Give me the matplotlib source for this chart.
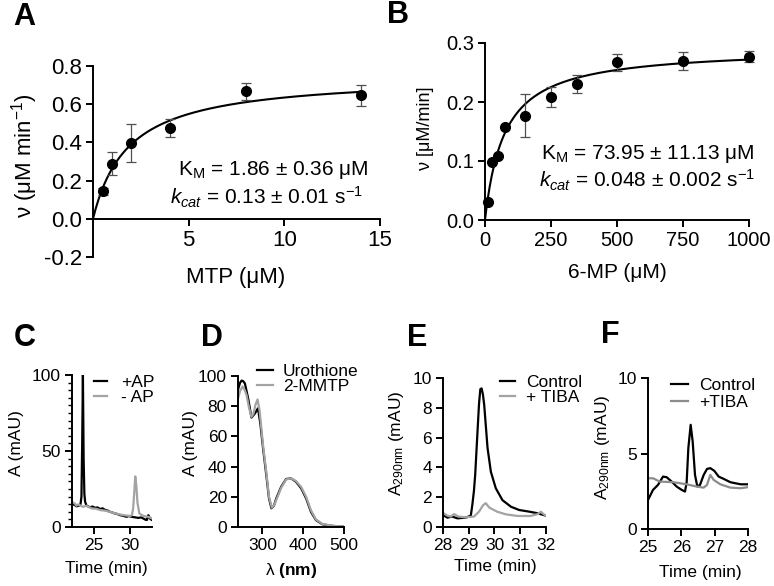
import numpy as np
import matplotlib
matplotlib.use("Agg")
from matplotlib import pyplot as plt

plt.rcParams['font.family'] = ['Liberation Sans', 'DejaVu Sans']
plt.rcParams['mathtext.fontset'] = 'custom'
plt.rcParams['mathtext.rm'] = 'Liberation Sans'
plt.rcParams['mathtext.it'] = 'Liberation Sans:italic'
plt.rcParams['mathtext.bf'] = 'Liberation Sans:bold'
plt.rcParams['axes.linewidth'] = 1.4

# A - MTP kinetics
mtp_conc = [0.5, 1, 2, 4, 8, 14]
mtp_rate = [0.143, 0.288, 0.397, 0.475, 0.667, 0.646]
mtp_err = [0.02, 0.061, 0.098, 0.046, 0.044, 0.057]
mtp_km, mtp_vmax = 1.86, 0.753

# B - 6-MP kinetics
mp_conc = [10, 25, 50, 75, 150, 250, 350, 500, 750, 1000]
mp_rate = [0.031, 0.098, 0.109, 0.158, 0.177, 0.208, 0.230, 0.267, 0.269, 0.277]
mp_err = [0.0, 0.0, 0.0, 0.0, 0.036, 0.017, 0.015, 0.014, 0.015, 0.010]
mp_km, mp_vmax = 73.95, 0.292

# C - HPLC +AP / -AP
c_t_ap = [22.0, 22.2, 22.4, 22.6, 22.8, 23.0, 23.15, 23.3, 23.4, 23.5, 23.6, 23.7, 23.8, 24.0,
          24.3, 24.5, 24.8, 25.2, 25.5, 25.9, 26.2, 26.6, 26.9, 27.2, 27.5, 27.9, 28.2,
          28.6, 29.0, 29.5, 29.8, 30.2, 30.6, 31.1, 31.5, 31.8, 32.1, 32.3, 32.5, 32.7, 32.8, 33.0]
c_v_ap = [15.6, 14.8, 14.4, 13.6, 13.8, 14.2, 14.4, 20, 55, 100, 45, 22, 16.7, 14.0,
          13.4, 12.9, 13.5, 12.6, 12.9, 11.8, 12.3, 11.1, 10.8, 10.0, 9.6, 8.9, 8.6,
          7.8, 7.4, 6.7, 7.2, 6.7, 6.4, 6.0, 6.3, 5.6, 4.8, 4.6, 7.8, 5.8, 5.1, 4.6]
c_t_noap = [22.0, 22.2, 22.37, 22.6, 22.8, 23.06, 23.5, 24.0, 24.7, 25.3, 25.9, 26.5, 27.2,
            27.9, 28.6, 29.5, 30.0, 30.24, 30.4, 30.55, 30.7, 30.85, 31.0, 31.26, 31.8, 32.5, 33.0]
c_v_noap = [16.7, 15.8, 15.6, 14.0, 14.8, 14.4, 13.3, 14.0, 12.2, 12.0, 11.1, 10.8, 10.0,
            9.0, 8.2, 7.5, 7.3, 7.8, 12, 22, 33.3, 27, 16, 8.9, 7.3, 6.7, 5.6]

# D - UV spectra
d_wl_uro = [240, 245, 249, 253, 257, 265, 273, 281, 289, 295, 301.5, 309.6, 316, 322, 328,
            334, 346, 358, 370, 382, 395, 407, 419, 431, 447, 472, 500]
d_ab_uro = [91, 95.5, 97, 96.5, 95, 85, 72.5, 75, 78.6, 68, 52, 34, 19, 12.4, 14,
            19, 26.7, 31.8, 32.2, 30, 25.6, 19, 10, 4.6, 1.8, 0.7, 0.2]
d_wl_mmtp = [240, 245, 251, 256, 261, 267, 273, 278, 283, 288, 293, 301.5, 310, 316, 323, 329,
             334, 346, 358, 370, 382, 395, 407, 419, 431, 447, 472, 500]
d_ab_mmtp = [85, 90, 93, 91, 87.4, 79, 73, 75, 81, 84.5, 77, 54, 35, 20, 12.8, 14.5,
             18, 26, 31.5, 32.2, 30.5, 26.5, 20, 11, 5, 2, 0.8, 0.3]

# E - HPLC control / +TIBA
e_t_ctrl = [28.0, 28.17, 28.36, 28.56, 28.88, 29.08, 29.14, 29.2, 29.25, 29.34, 29.4, 29.45,
            29.5, 29.55, 29.6, 29.73, 29.86, 30.05, 30.31, 30.64, 30.96, 31.35, 31.68, 31.81, 32.0]
e_v_ctrl = [0.8, 0.63, 0.7, 0.58, 0.63, 0.76, 1.5, 2.4, 3.5, 6.4, 8.3, 9.25,
            9.3, 8.9, 8.2, 5.3, 3.7, 2.6, 1.8, 1.36, 1.14, 1.03, 0.92, 0.85, 0.76]
e_t_tiba = [28.0, 28.17, 28.3, 28.43, 28.6, 28.88, 29.2, 29.4, 29.55, 29.66, 29.8, 30.1,
            30.44, 30.9, 31.4, 31.68, 31.8, 31.9, 32.0]
e_v_tiba = [0.95, 0.76, 0.7, 0.87, 0.7, 0.65, 0.7, 1.03, 1.45, 1.6, 1.3, 1.03,
            0.85, 0.74, 0.74, 0.87, 1.03, 0.87, 0.76]

# F - HPLC control / +TIBA
f_t_ctrl = [25.0, 25.15, 25.3, 25.45, 25.56, 25.71, 25.86, 26.01, 26.11, 26.16, 26.21, 26.28,
            26.34, 26.41, 26.48, 26.56, 26.67, 26.77, 26.87, 26.99, 27.12, 27.27, 27.47,
            27.62, 27.78, 28.0]
f_v_ctrl = [1.92, 2.59, 2.92, 3.47, 3.43, 3.14, 2.81, 2.59, 2.48, 3.1, 5.35, 6.9,
            5.8, 3.58, 2.81, 2.92, 3.58, 3.98, 4.03, 3.85, 3.47, 3.32, 3.1,
            3.03, 2.96, 2.96]
f_t_tiba = [25.0, 25.15, 25.35, 25.76, 26.16, 26.46, 26.67, 26.77, 26.87, 26.97, 27.17,
            27.47, 27.78, 28.0]
f_v_tiba = [3.36, 3.36, 3.14, 3.1, 2.96, 2.81, 2.74, 2.92, 3.58, 3.25, 2.96,
            2.74, 2.7, 2.77]

W, H = 774, 586
fig = plt.figure(figsize=(W / 100, H / 100), dpi=100)


def px_axes(x0, y0, x1, y1):
    # pixel box (left, top, right, bottom) -> figure axes
    return fig.add_axes([x0 / W, 1 - y1 / H, (x1 - x0) / W, (y1 - y0) / H])


def style(ax, size):
    ax.spines['top'].set_visible(False)
    ax.spines['right'].set_visible(False)
    ax.tick_params(labelsize=size, length=5, width=1.4, direction='out', pad=3)


def labels(ax, xl, xpos, yl, ypos, size, ysize=None):
    ax.set_xlabel(xl, fontsize=size, va='center')
    ax.xaxis.set_label_coords(xpos[0] / W, 1 - xpos[1] / H, transform=fig.transFigure)
    ax.set_ylabel(yl, fontsize=ysize or size, va='center')
    ax.yaxis.set_label_coords(ypos[0] / W, 1 - ypos[1] / H, transform=fig.transFigure)


def letter(s, x, y):
    fig.text(x / W, 1 - y / H, s, fontsize=22, fontweight='bold', ha='center', va='center')


def note(s, x, y, size):
    fig.text(x / W, 1 - y / H, s, fontsize=size, ha='right', va='center')


# ---- A
axA = px_axes(93, 66, 380, 257)
style(axA, 16)
xs = np.linspace(0, 14, 200)
axA.plot(xs, mtp_vmax * xs / (mtp_km + xs), color='black', lw=1.5)
axA.errorbar(mtp_conc, mtp_rate, yerr=mtp_err, fmt='o', color='black', ms=7,
             ecolor='#505050', elinewidth=0.9, capsize=3.5, capthick=0.9)
axA.set_xlim(0, 15)
axA.set_ylim(-0.2, 0.8)
axA.spines['bottom'].set_position(('data', 0))
axA.set_xticks([5, 10, 15])
axA.set_yticks([-0.2, 0.0, 0.2, 0.4, 0.6, 0.8])
axA.set_yticklabels(['-0.2', '0.0', '0.2', '0.4', '0.6', '0.8'])
labels(axA, 'MTP (μM)', (236, 278), 'ν (μM min$^{\\mathrm{-1}}$)', (25, 156), 16)
note(r'K$_\mathrm{M}$ = 1.86 ± 0.36 μM', 369, 170, 15)
note(r'$k_{cat}$ = 0.13 ± 0.01 s$^{\mathrm{-1}}$', 363, 197, 15)
letter('A', 24, 17)

# ---- B
axB = px_axes(485, 43, 749, 220)
style(axB, 14.5)
xs = np.linspace(0, 1000, 400)
axB.plot(xs, mp_vmax * xs / (mp_km + xs), color='black', lw=1.5)
axB.errorbar(mp_conc, mp_rate, yerr=mp_err, fmt='o', color='black', ms=7,
             ecolor='#505050', elinewidth=0.9, capsize=3.5, capthick=0.9, clip_on=False)
axB.set_xlim(0, 1000)
axB.set_ylim(0, 0.3)
axB.set_xticks([0, 250, 500, 750, 1000])
axB.set_yticks([0.0, 0.1, 0.2, 0.3])
axB.set_yticklabels(['0.0', '0.1', '0.2', '0.3'])
labels(axB, '6-MP (μM)', (617, 273), 'ν [μM/min]', (425, 128), 15, ysize=13)
note(r'K$_\mathrm{M}$ = 73.95 ± 11.13 μM', 755, 154, 15)
note(r'$k_{cat}$ = 0.048 ± 0.002 s$^{\mathrm{-1}}$', 755, 180, 15)
letter('B', 398, 15)

gray = '#a3a3a3'
small = 12.5
leg = 12.5

# ---- C
axC = px_axes(72, 375, 152, 527)
style(axC, small)
axC.plot(c_t_ap, c_v_ap, color='black', lw=1.6, label='+AP')
axC.plot(c_t_noap, c_v_noap, color=gray, lw=1.6, label='- AP')
axC.set_xlim(22, 33)
axC.set_ylim(0, 100)
axC.set_xticks([25, 30])
axC.set_yticks([0, 50, 100])
axC.set_yticks(np.arange(0, 101, 5), minor=True)
axC.tick_params(which='minor', length=3, width=1.0)
axC.legend(frameon=False, fontsize=leg, loc='upper left', bbox_to_anchor=(0.27, 1.0),
           handlelength=0.8, handletextpad=0.8, labelspacing=0.0, borderpad=0, borderaxespad=0)
labels(axC, 'Time (min)', (106, 568), 'A (mAU)', (17, 443), small)
letter('C', 25, 338)

# ---- D
axD = px_axes(238, 376, 344, 527)
style(axD, small)
axD.plot(d_wl_uro, d_ab_uro, color='black', lw=1.6, label='Urothione')
axD.plot(d_wl_mmtp, d_ab_mmtp, color=gray, lw=1.6, label='2-MMTP')
axD.set_xlim(240, 500)
axD.set_ylim(0, 100)
axD.set_xticks([300, 400, 500])
axD.set_yticks([0, 20, 40, 60, 80, 100])
axD.legend(frameon=False, fontsize=leg, loc='upper left', bbox_to_anchor=(0.18, 1.08),
           handlelength=0.9, handletextpad=0.6, labelspacing=0.0, borderpad=0, borderaxespad=0)
labels(axD, r'λ $\mathbf{(nm)}$', (291, 570), 'A (mAU)', (191, 443), small)
letter('D', 212, 338)

# ---- E
axE = px_axes(443, 378, 546, 527)
style(axE, small)
axE.plot(e_t_ctrl, e_v_ctrl, color='black', lw=1.6, label='Control')
axE.plot(e_t_tiba, e_v_tiba, color=gray, lw=1.6, label='+ TIBA')
axE.set_xlim(28, 32)
axE.set_ylim(0, 10)
axE.set_xticks([28, 29, 30, 31, 32])
axE.set_yticks([0, 2, 4, 6, 8, 10])
axE.legend(frameon=False, fontsize=leg, loc='upper left', bbox_to_anchor=(0.55, 1.02),
           handlelength=0.9, handletextpad=0.6, labelspacing=0.0, borderpad=0, borderaxespad=0)
labels(axE, 'Time (min)', (495, 567), r'A$_\mathrm{290nm}$ (mAU)', (397, 443), small)
letter('E', 417, 338)

# ---- F
axF = px_axes(648, 378, 748, 529)
style(axF, small)
axF.plot(f_t_ctrl, f_v_ctrl, color='black', lw=1.6, label='Control')
axF.plot(f_t_tiba, f_v_tiba, color='#8c8c8c', lw=1.6, label='+TIBA')
axF.set_xlim(25, 28)
axF.set_ylim(0, 10)
axF.set_xticks([25, 26, 27, 28])
axF.set_yticks([0, 5, 10])
axF.legend(frameon=False, fontsize=leg, loc='upper left', bbox_to_anchor=(0.23, 1.0),
           handlelength=1.0, handletextpad=0.6, labelspacing=0.1, borderpad=0, borderaxespad=0)
labels(axF, 'Time (min)', (700, 572), r'A$_\mathrm{290nm}$ (mAU)', (603, 447), small)
letter('F', 610, 335)

fig.savefig('out.png', dpi=100)
